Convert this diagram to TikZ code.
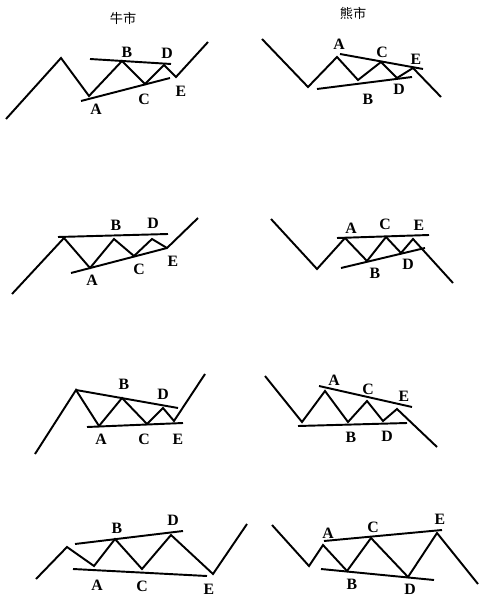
\documentclass[tikz,border=0pt]{standalone}
\usepackage{fontspec}
\setmainfont{Liberation Serif}
\newfontfamily\cjkfont{Noto Sans CJK SC}
\usepackage{tikz}
\tikzset{
  wave/.style  = {line width=1.1pt, line join=miter},
  trend/.style = {line width=1.1pt},
  lbl/.style   = {inner sep=0pt, font=\fontsize{9}{9}\selectfont\bfseries},
  title/.style = {inner sep=0pt, font=\cjkfont\fontsize{7.5}{7.5}\selectfont},
}

\begin{document}
\begin{tikzpicture}[x=0.02cm, y=-0.02cm]
  \useasboundingbox (0,0) rectangle (480,597);

  \node[title] (bull) at (123,18) {牛市};
  \node[title] (bear) at (353,13) {熊市};

  % row 1
  \draw[wave] (6,119) -- (61,58) -- (89,96) -- (122,61) -- (145,84) -- (164,65) -- (176,77) -- (208,42);
  \draw[trend] (90,59) -- (171,64);
  \draw[trend] (81,101) -- (170,78);
  \node[lbl] (a1) at (96,109) {A};
  \node[lbl] (b1) at (127,52) {B};
  \node[lbl] (c1) at (144,99) {C};
  \node[lbl] (d1) at (167,53) {D};
  \node[lbl] (e1) at (181,91) {E};

  \draw[wave] (262,39) -- (308,87) -- (337,57) -- (358,80) -- (381,62) -- (397,78) -- (413,68) -- (441,97);
  \draw[trend] (340,54) -- (423,69);
  \draw[trend] (317,89) -- (412,77);
  \node[lbl] (a2) at (339,44) {A};
  \node[lbl] (b2) at (368,99) {B};
  \node[lbl] (c2) at (382,52) {C};
  \node[lbl] (d2) at (399,89) {D};
  \node[lbl] (e2) at (416,59) {E};

  % row 2
  \draw[wave] (12,294) -- (64,238) -- (90,268) -- (114,239) -- (134,256) -- (152,239) -- (167,248) -- (198,218);
  \draw[trend] (58,237) -- (168,234);
  \draw[trend] (71,273) -- (167,248);
  \node[lbl] (a3) at (92,280) {A};
  \node[lbl] (b3) at (116,225) {B};
  \node[lbl] (c3) at (139,269) {C};
  \node[lbl] (d3) at (153,223) {D};
  \node[lbl] (e3) at (173,261) {E};

  \draw[wave] (271,219) -- (317,269) -- (345,238) -- (367,261) -- (386,237) -- (401,253) -- (413,239) -- (453,283);
  \draw[trend] (337,238) -- (429,235);
  \draw[trend] (341,268) -- (425,248);
  \node[lbl] (a4) at (351,228) {A};
  \node[lbl] (b4) at (375,273) {B};
  \node[lbl] (c4) at (385,224) {C};
  \node[lbl] (d4) at (408,264) {D};
  \node[lbl] (e4) at (419,225) {E};

  % row 3
  \draw[wave] (35,454) -- (76,390) -- (99,426) -- (122,398) -- (147,424) -- (163,408) -- (174,421) -- (205,374);
  \draw[trend] (76,390) -- (178,408);
  \draw[trend] (87,427) -- (183,423);
  \node[lbl] (a5) at (101,439) {A};
  \node[lbl] (b5) at (124,384) {B};
  \node[lbl] (c5) at (144,439) {C};
  \node[lbl] (d5) at (163,394) {D};
  \node[lbl] (e5) at (178,439) {E};

  \draw[wave] (265,376) -- (302,422) -- (325,391) -- (348,422) -- (367,401) -- (383,421) -- (397,409) -- (437,447);
  \draw[trend] (319,386) -- (412,407);
  \draw[trend] (298,426) -- (407,423);
  \node[lbl] (a6) at (334,380) {A};
  \node[lbl] (b6) at (351,437) {B};
  \node[lbl] (c6) at (368,389) {C};
  \node[lbl] (d6) at (387,436) {D};
  \node[lbl] (e6) at (404,396) {E};

  % row 4
  \draw[wave] (36,579) -- (67,547) -- (94,566) -- (115,539) -- (142,569) -- (171,535) -- (213,574) -- (247,524);
  \draw[trend] (75,544) -- (183,531);
  \draw[trend] (73,569) -- (207,576);
  \node[lbl] (a7) at (97,585) {A};
  \node[lbl] (b7) at (117,528) {B};
  \node[lbl] (c7) at (142,586) {C};
  \node[lbl] (d7) at (173,520) {D};
  \node[lbl] (e7) at (209,589) {E};

  \draw[wave] (272,525) -- (309,566) -- (323,545) -- (347,571) -- (371,538) -- (408,577) -- (437,533) -- (478,584);
  \draw[trend] (324,541) -- (442,530);
  \draw[trend] (321,569) -- (434,580);
  \node[lbl] (a8) at (328,533) {A};
  \node[lbl] (b8) at (352,584) {B};
  \node[lbl] (c8) at (373,527) {C};
  \node[lbl] (d8) at (410,589) {D};
  \node[lbl] (e8) at (440,519) {E};
\end{tikzpicture}
\end{document}
